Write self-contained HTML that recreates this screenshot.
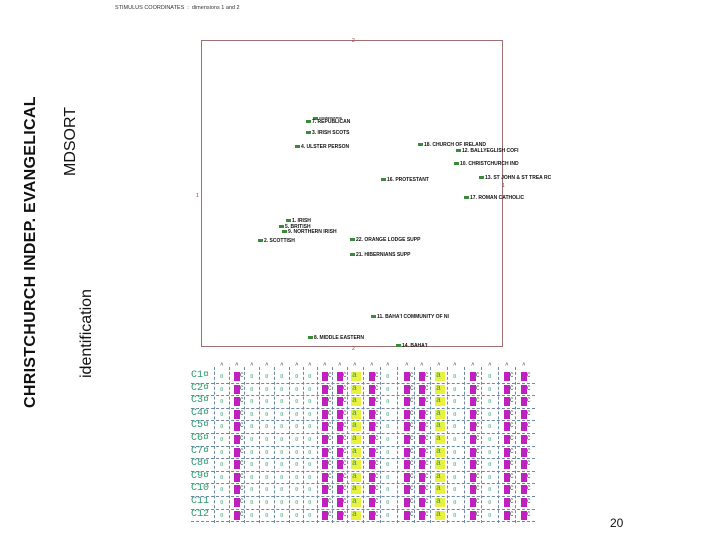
<!DOCTYPE html>
<html><head><meta charset="utf-8"><style>
body{margin:0;width:720px;height:540px;background:#fff;position:relative;overflow:hidden;font-family:"Liberation Sans",sans-serif}
.a{position:absolute;white-space:nowrap}
.pt{position:absolute;font-size:5px;font-weight:bold;color:#111;white-space:nowrap;line-height:6px}
.pt::before{content:"";display:inline-block;width:5px;height:3px;background:#3a8a3a;margin-right:1px;vertical-align:middle}
.c{position:absolute;font-family:"Liberation Mono",monospace;font-size:8px;color:#2a9a6a;line-height:8px}
</style></head><body>
<div class="a" style="left:115px;top:5px;font-size:5.5px;color:#333">STIMULUS COORDINATES &nbsp;:&nbsp; dimensions 1 and 2</div>
<div class="a" style="left:201px;top:40px;width:300px;height:305px;border:1px solid #a07070"></div>
<div class="a" style="left:352px;top:38px;font-size:5px;color:#a03030">2</div>
<div class="a" style="left:352px;top:346px;font-size:5px;color:#a03030">2</div>
<div class="a" style="left:196px;top:193px;font-size:5px;color:#a03030">1</div>
<div class="a" style="left:502px;top:183px;font-size:5px;color:#a03030">1</div>
<div class="a" style="left:22px;top:408px;transform:rotate(-90deg);transform-origin:0 0;font-size:16px;letter-spacing:0.3px;font-weight:bold;color:#111;">CHRISTCHURCH INDEP. EVANGELICAL</div>
<div class="a" style="left:62px;top:176px;transform:rotate(-90deg);transform-origin:0 0;font-size:16px;color:#111">MDSORT</div>
<div class="a" style="left:78px;top:378px;transform:rotate(-90deg);transform-origin:0 0;font-size:16px;color:#111">identification</div>
<div class="a" style="left:610px;top:516px;font-size:12px;color:#111">20</div>
<div class="pt" style="left:313px;top:115px;font-size:3px">CONSERVATIVE</div>
<div class="pt" style="left:306px;top:119px">7. REPUBLICAN</div>
<div class="pt" style="left:306px;top:130px">3. IRISH SCOTS</div>
<div class="pt" style="left:295px;top:144px">4. ULSTER PERSON</div>
<div class="pt" style="left:418px;top:142px">18. CHURCH OF IRELAND</div>
<div class="pt" style="left:456px;top:148px">12. BALLYEGLISH COFI</div>
<div class="pt" style="left:454px;top:161px">10. CHRISTCHURCH IND</div>
<div class="pt" style="left:479px;top:175px">13. ST JOHN &amp; ST TREA RC</div>
<div class="pt" style="left:381px;top:177px">16. PROTESTANT</div>
<div class="pt" style="left:464px;top:195px">17. ROMAN CATHOLIC</div>
<div class="pt" style="left:286px;top:218px">1. IRISH</div>
<div class="pt" style="left:279px;top:224px">5. BRITISH</div>
<div class="pt" style="left:282px;top:229px">9. NORTHERN IRISH</div>
<div class="pt" style="left:258px;top:238px">2. SCOTTISH</div>
<div class="pt" style="left:350px;top:237px">22. ORANGE LODGE SUPP</div>
<div class="pt" style="left:350px;top:252px">21. HIBERNIANS SUPP</div>
<div class="pt" style="left:371px;top:314px">11. BAHA'I COMMUNITY OF NI</div>
<div class="pt" style="left:308px;top:335px">8. MIDDLE EASTERN</div>
<div class="pt" style="left:396px;top:343px">14. BAHA'I</div>
<div id="g"></div>
<script>
var xs=[222,237,252,267,282,297,310,325,340,355,372,388,407,422,439,455,473,490,507,524];
var mag=[1,7,8,10,12,13,16,18,19];var yel=[9,14];
var h='';
var y0=370,rh=12.6;
for(var r=0;r<12;r++){var y=y0+r*rh;
 h+='<div class="c" style="left:191px;top:'+(y+1)+'px;font-size:10px;line-height:10px">'+(r<9?'C'+(r+1)+'\u00a4':'C'+(r+1))+'</div>';
 h+='<div class="a" style="left:191px;top:'+(y+rh)+'px;width:344px;border-top:1px dashed #6a8aa8"></div>';
 for(var c=0;c<20;c++){var x=xs[c];
  if(mag.indexOf(c)>=0)h+='<div class="a" style="left:'+(x-3)+'px;top:'+(y+2)+'px;width:6px;height:9px;background:#c020c0"></div><div class="c" style="left:'+(x+3)+'px;top:'+(y+2)+'px;color:#333;font-size:6px">C</div>';
  else if(yel.indexOf(c)>=0)h+='<div class="a" style="left:'+(x-4)+'px;top:'+(y+2)+'px;width:10px;height:9px;background:#e8f040"></div><div class="c" style="left:'+(x-3)+'px;top:'+(y+2)+'px">a</div>';
  else h+='<div class="c" style="left:'+(x-2)+'px;top:'+(y+3)+'px;font-size:6px">\u00a4</div>';
 }}
for(var c=0;c<20;c++){h+='<div class="a" style="left:'+(c==0?214:((xs[c-1]+xs[c])/2)|0)+'px;top:367px;height:156px;border-left:1px dashed #6a8aa8"></div>';}
for(var c=0;c<20;c++)h+='<div class="c" style="left:'+(xs[c]-2)+'px;top:362px;color:#333;font-size:6px">^</div>';
document.getElementById('g').innerHTML=h;
</script>
</body></html>
